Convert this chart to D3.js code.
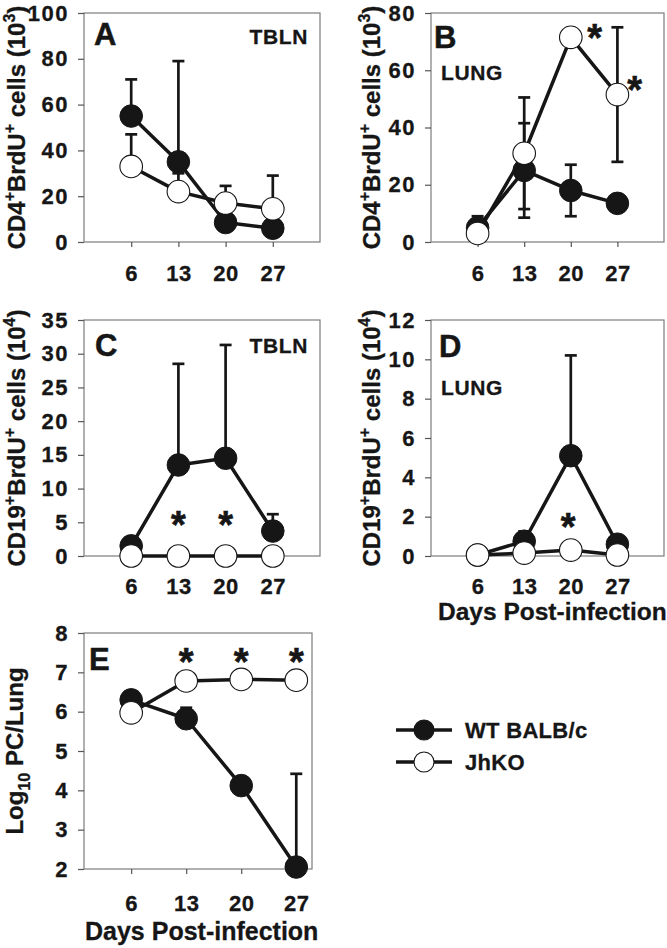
<!DOCTYPE html>
<html><head><meta charset="utf-8">
<script src="https://cdn.jsdelivr.net/npm/d3@7"></script>
<style>html,body{margin:0;padding:0;background:#fff}svg{display:block}</style>
</head><body><svg id="c" width="667" height="948"></svg>
<script>
// ---------- data ----------
const days = [6, 13, 20, 27];
const seriesNames = ["WT BALB/c", "JhKO"];
// Panel A: CD4+BrdU+ TBLN (10^3)
const wtA = [55, 35, 8.5, 6];
const wtA_up = [16, 44, 0, 0];
const koA = [33, 22, 17, 14.5];
const koA_up = [14, 8, 7.5, 14.5];
// Panel B: CD4+BrdU+ LUNG (10^3)
const wtB = [5, 25, 18, 13.5];
const wtB_err = [4, 16.5, 9, 0];
const koB = [3, 31, 71.5, 51.5];
const koB_err = [0, 19.5, 0, 23.5];
// Panel C: CD19+BrdU+ TBLN (10^4)
const wtC = [1.5, 13.5, 14.5, 3.7];
const wtC_up = [0, 15, 16.8, 2.5];
const koC = [0, 0, 0, 0];
// Panel D: CD19+BrdU+ LUNG (10^4)
const wtD = [0.05, 0.75, 5.1, 0.6];
const wtD_up = [0, 0.5, 5.1, 0];
const koD = [0.05, 0.15, 0.3, 0.05];
// Panel E: Log10 PC/Lung
const wtE = [6.3, 5.82, 4.12, 2.05];
const wtE_up = [0, 0.28, 0, 2.37];
const koE = [5.97, 6.78, 6.82, 6.8];
// ticks
const xTickVals = [6, 13, 20, 27];
const yTicksA = [0, 20, 40, 60, 80, 100];
const yTicksB = [0, 20, 40, 60, 80];
const yTicksC = [0, 5, 10, 15, 20, 25, 30, 35];
const yTicksD = [0, 2, 4, 6, 8, 10, 12];
const yTicksE = [2, 3, 4, 5, 6, 7, 8];
// significance markers [day, value]
const starsB = [[23.6, 73], [29.6, 55]];
const starsC = [[13, 5.4], [20, 5.4]];
const starsD = [[19.6, 1.74]];
const starsE = [[13, 7.39], [20, 7.39], [27, 7.39]];

// ---------- drawing ----------
const svg = d3.select("#c");
const FONT = "'Liberation Sans', Arial, Helvetica, sans-serif";
const INK = "#161616";

const cd4Title = [["CD4",0],["+",1],["BrdU",0],["+",1],[" cells (10",0],["3",1],[")",0]];
const cd19Title = [["CD19",0],["+",1],["BrdU",0],["+",1],[" cells (10",0],["4",1],[")",0]];
const logTitle = [["Log",0],["10",-1],[" PC/Lung",0]];

const panels = [
  {x0:84, x1:320, y0:13, y1:242, xd:[-1,34], yd:[0,100], yt:yTicksA, letter:"A", lp:[94,45], tag:"TBLN", tp:[308,44,"end"],
   title:cd4Title, tx:25, wt:[wtA, wtA_up, null], ko:[koA, koA_up, null], stars:[], pad:18},
  {x0:431, x1:664, y0:13, y1:242, xd:[-1,34], yd:[0,80], yt:yTicksB, letter:"B", lp:[434,48], tag:"LUNG", tp:[441,80,"start"],
   title:cd4Title, tx:380, wt:[wtB, wtB_err, wtB_err], ko:[koB, koB_err, koB_err], stars:starsB, pad:18},
  {x0:84, x1:320, y0:320, y1:556, xd:[-1,34], yd:[0,35], yt:yTicksC, letter:"C", lp:[95,356], tag:"TBLN", tp:[308,353,"end"],
   title:cd19Title, tx:25, wt:[wtC, wtC_up, null], ko:[koC, null, null], stars:starsC, pad:17},
  {x0:431, x1:664, y0:320, y1:556, xd:[-1,34], yd:[0,12], yt:yTicksD, letter:"D", lp:[439,357], tag:"LUNG", tp:[441,395,"start"],
   title:cd19Title, tx:380, wt:[wtD, wtD_up, null], ko:[koD, null, null], stars:starsD, pad:17},
  {x0:84, x1:312, y0:633, y1:869, xd:[0,29], yd:[2,8], yt:yTicksE, letter:"E", lp:[89,670], tag:null,
   title:logTitle, tx:23, wt:[wtE, wtE_up, null], ko:[koE, null, null], stars:starsE, pad:21}
];

function styleAxis(s, ls) {
  s.attr("font-family", FONT).attr("font-size", 22).attr("font-weight", "bold");
  s.select(".domain").remove();
  s.selectAll(".tick line").attr("stroke", "#555").attr("stroke-width", 1.2);
  s.selectAll(".tick text").attr("fill", INK).attr("stroke", INK).attr("stroke-width", 0.3)
    .attr("letter-spacing", ls);
}

function drawSeries(g, x, y, spec, filled) {
  const [vals, up, dn] = spec;
  const pts = days.map((d, i) => ({d, v: vals[i], u: up ? up[i] : 0, n: dn ? dn[i] : 0}));
  const errs = [];
  pts.forEach(p => {
    if (p.u > 0) errs.push({d: p.d, a: p.v, b: p.v + p.u});
    if (p.n > 0) errs.push({d: p.d, a: p.v, b: p.v - p.n});
  });
  const eg = g.append("g").attr("stroke", INK).attr("stroke-width", 2.7);
  eg.selectAll("line.v").data(errs).join("line").attr("class", "v")
    .attr("x1", e => x(e.d)).attr("x2", e => x(e.d))
    .attr("y1", e => y(e.a)).attr("y2", e => y(e.b));
  eg.selectAll("line.c").data(errs).join("line").attr("class", "c")
    .attr("x1", e => x(e.d) - 6).attr("x2", e => x(e.d) + 6)
    .attr("y1", e => y(e.b)).attr("y2", e => y(e.b));
  g.append("path").datum(pts)
    .attr("d", d3.line().x(p => x(p.d)).y(p => y(p.v)))
    .attr("fill", "none").attr("stroke", INK).attr("stroke-width", 3.5).attr("stroke-linejoin", "round");
  g.selectAll("circle.m" + (filled ? "f" : "o")).data(pts).join("circle")
    .attr("cx", p => x(p.d)).attr("cy", p => y(p.v)).attr("r", 11.3)
    .attr("fill", filled ? INK : "#fff").attr("stroke", INK).attr("stroke-width", filled ? 1 : 1.1);
}

function richText(sel, parts, big, small) {
  const sh = k => k === 1 ? -10 : (k === -1 ? 7 : 0);
  parts.forEach(([t, k], i) => {
    const prev = i > 0 ? parts[i - 1][1] : 0;
    sel.append("tspan").text(t)
      .attr("font-size", k === 0 ? big : small)
      .attr("dy", sh(k) - sh(prev));
  });
}

panels.forEach(p => {
  const g = svg.append("g");
  const x = d3.scaleLinear().domain(p.xd).range([p.x0, p.x1]);
  const y = d3.scaleLinear().domain(p.yd).range([p.y1, p.y0]);

  g.append("rect").attr("x", p.x0).attr("y", p.y0)
    .attr("width", p.x1 - p.x0).attr("height", p.y1 - p.y0)
    .attr("fill", "none").attr("stroke", "#7c7c7c").attr("stroke-width", 1.2);

  g.append("g").attr("transform", `translate(${p.x0},0)`)
    .call(d3.axisLeft(y).tickValues(p.yt).tickFormat(d3.format("d")).tickSize(6).tickPadding(9).tickSizeOuter(0))
    .call(s => styleAxis(s, 1.5));
  g.append("g").attr("transform", `translate(0,${p.y1})`)
    .call(d3.axisBottom(x).tickValues(xTickVals).tickFormat(d3.format("d")).tickSize(5).tickPadding(p.pad).tickSizeOuter(0))
    .call(s => styleAxis(s, 0.5));

  // y title
  const cy = (p.y0 + p.y1) / 2;
  const t = g.append("text")
    .attr("transform", `translate(${p.tx},${cy}) rotate(-90)`)
    .attr("text-anchor", "middle").attr("font-family", FONT).attr("font-weight", "bold")
    .attr("fill", INK).attr("stroke", INK).attr("stroke-width", 0.3);
  richText(t, p.title, 24, 16);

  // panel letter and tag
  g.append("text").attr("x", p.lp[0]).attr("y", p.lp[1]).text(p.letter)
    .attr("font-family", FONT).attr("font-weight", "bold").attr("font-size", 31)
    .attr("fill", INK).attr("stroke", INK).attr("stroke-width", 0.5);
  if (p.tag) {
    g.append("text").attr("x", p.tp[0]).attr("y", p.tp[1]).text(p.tag)
      .attr("text-anchor", p.tp[2]).attr("font-family", FONT).attr("font-weight", "bold")
      .attr("font-size", 21).attr("letter-spacing", 0.6).attr("fill", INK)
      .attr("stroke", INK).attr("stroke-width", 0.3);
  }

  drawSeries(g, x, y, p.wt, true);
  drawSeries(g, x, y, p.ko, false);

  g.selectAll("text.star").data(p.stars).join("text").attr("class", "star")
    .attr("x", s => x(s[0])).attr("y", s => y(s[1]) + 18)
    .attr("text-anchor", "middle").attr("font-family", FONT).attr("font-weight", "bold")
    .attr("font-size", 38).attr("fill", INK).attr("stroke", INK).attr("stroke-width", 0.6).text("*");
});

// x-axis titles
const xt = [[438, 620, 24.5], [85, 940, 25]];
xt.forEach(([tx, ty, fs]) => {
  svg.append("text").attr("x", tx).attr("y", ty).text("Days Post-infection")
    .attr("font-family", FONT).attr("font-weight", "bold").attr("font-size", fs)
    .attr("fill", INK).attr("stroke", INK).attr("stroke-width", 0.3);
});

// legend
const leg = svg.append("g");
seriesNames.forEach((name, i) => {
  const cy = 730 + i * 32;
  leg.append("line").attr("x1", 396).attr("x2", 452).attr("y1", cy).attr("y2", cy)
    .attr("stroke", INK).attr("stroke-width", 3.6);
  leg.append("circle").attr("cx", 424).attr("cy", cy).attr("r", 10)
    .attr("fill", i === 0 ? INK : "#fff").attr("stroke", INK).attr("stroke-width", 1.1);
  leg.append("text").attr("x", 465).attr("y", cy + 7.5).text(name)
    .attr("font-family", FONT).attr("font-weight", "bold").attr("font-size", 22)
    .attr("letter-spacing", 0.3).attr("fill", INK).attr("stroke", INK).attr("stroke-width", 0.3);
});
</script></body></html>
